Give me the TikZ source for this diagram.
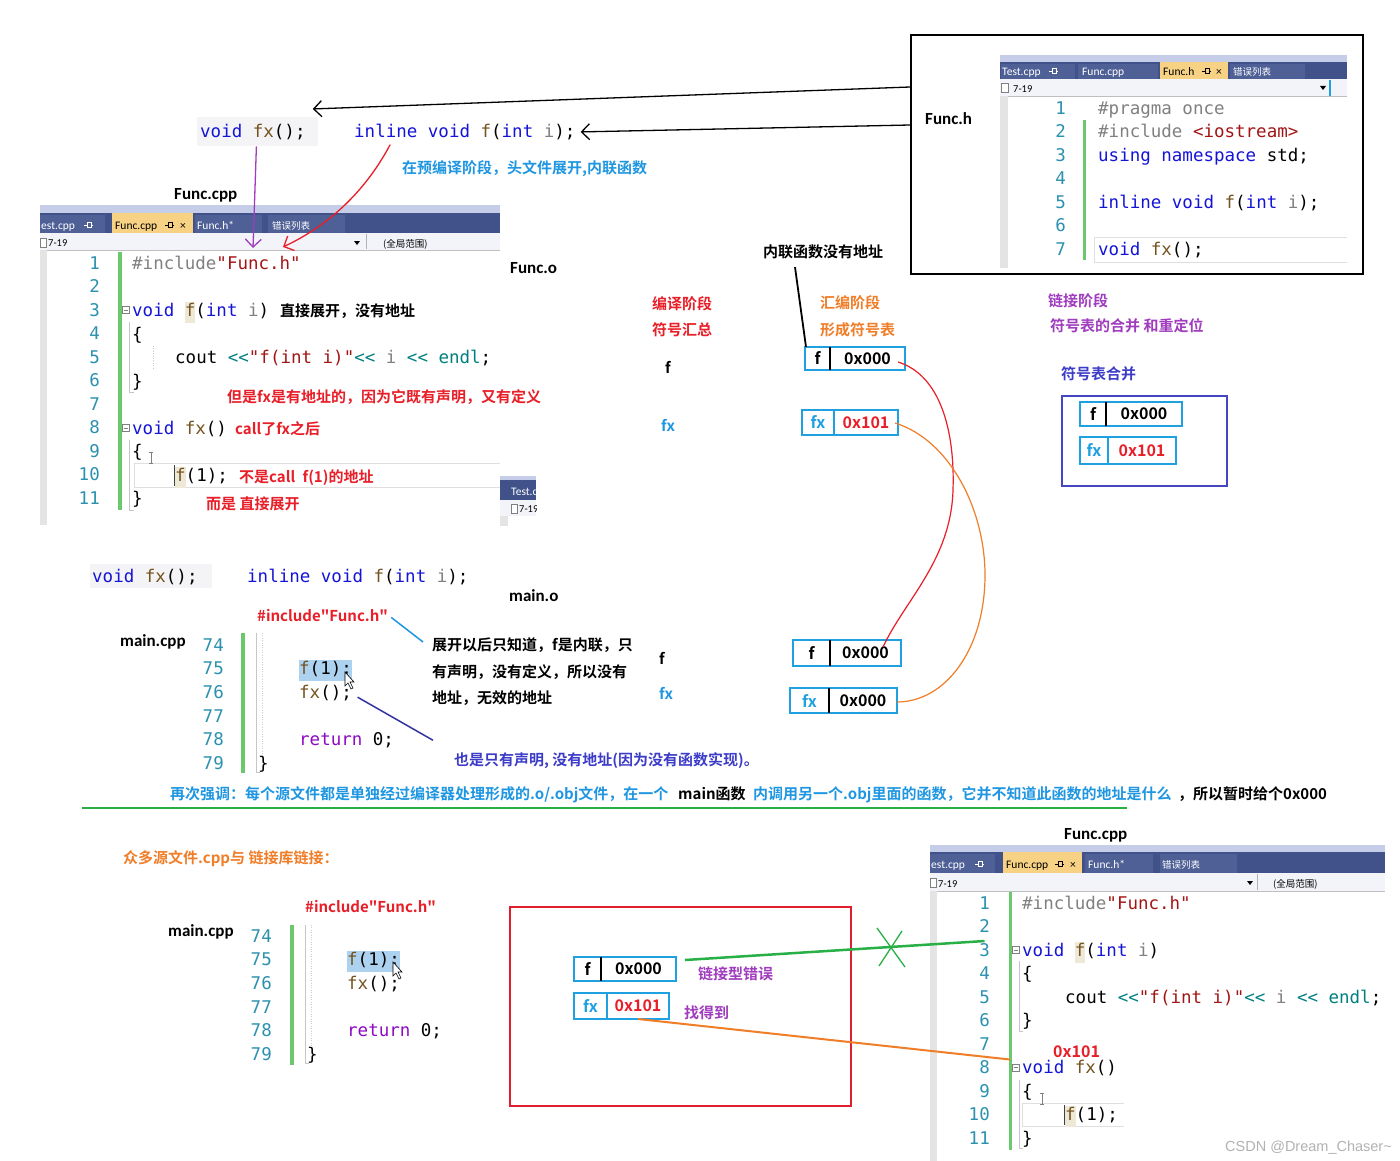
\documentclass[tikz,border=0pt]{standalone}
\usepackage{fontspec}
\setmainfont{Carlito}
\setmonofont{DejaVu Sans Mono}
\newfontfamily\cjk{Noto Sans CJK SC}[BoldFont={Noto Sans CJK SC Bold}]
\newfontfamily\wmfont{Liberation Sans}
\usetikzlibrary{arrows.meta,calc,positioning}

\definecolor{kwblue}{RGB}{20,20,215}
\definecolor{fnbrown}{RGB}{116,83,31}
\definecolor{prmgray}{RGB}{128,128,128}
\definecolor{strred}{RGB}{163,21,21}
\definecolor{opteal}{RGB}{0,128,128}
\definecolor{retpurple}{RGB}{143,8,196}
\definecolor{lnteal}{RGB}{43,145,175}
\definecolor{chgreen}{RGB}{108,200,108}
\definecolor{tabband}{RGB}{198,205,232}
\definecolor{tabbar}{RGB}{64,82,137}
\definecolor{tabin}{RGB}{78,96,150}
\definecolor{tabact}{RGB}{247,210,132}
\definecolor{navrow}{RGB}{242,244,250}
\definecolor{margray}{RGB}{228,228,228}
\definecolor{codebg}{RGB}{244,244,246}
\definecolor{notered}{RGB}{232,30,40}
\definecolor{noteblue}{RGB}{30,150,225}
\definecolor{noteindigo}{RGB}{60,60,200}
\definecolor{noteorange}{RGB}{240,125,40}
\definecolor{notepurple}{RGB}{160,60,190}
\definecolor{cellblue}{RGB}{30,160,225}
\definecolor{boxindigo}{RGB}{70,70,195}
\definecolor{boxred}{RGB}{225,30,45}
\definecolor{linkgreen}{RGB}{40,175,70}
\definecolor{selblue}{RGB}{173,210,240}
\definecolor{fbeige}{RGB}{238,232,214}

\newcommand\ckw[1]{\textcolor{kwblue}{#1}}
\newcommand\cfn[1]{\textcolor{fnbrown}{#1}}
\newcommand\cprm[1]{\textcolor{prmgray}{#1}}
\newcommand\cstr[1]{\textcolor{strred}{#1}}
\newcommand\cpre[1]{\textcolor{prmgray}{#1}}
\newcommand\cop[1]{\textcolor{opteal}{#1}}
\newcommand\cret[1]{\textcolor{retpurple}{#1}}
\newcommand\chl[1]{{\setlength\fboxsep{0pt}\colorbox{fbeige}{\strut#1}}}
\newcommand\csel[1]{{\setlength\fboxsep{0pt}\colorbox{selblue}{\strut#1}}}

\tikzset{
  code/.style={anchor=mid west, inner sep=0pt, yshift=-4pt, font=\ttfamily\fontsize{17.5}{21}\selectfont},
  lnum/.style={anchor=mid east, inner sep=0pt, yshift=-4pt, text=lnteal, font=\ttfamily\fontsize{17.5}{21}\selectfont},
  note/.style={anchor=mid west, inner sep=0pt, yshift=-4pt, font=\cjk\bfseries\fontsize{15}{18}\selectfont},
  fname/.style={anchor=mid west, inner sep=0pt, yshift=-4pt, font=\bfseries\fontsize{17}{20}\selectfont},
  tabtxt/.style={anchor=mid west, inner sep=0pt, yshift=-2pt, text=white, font=\fontsize{11.5}{13}\selectfont},
  tabcjk/.style={tabtxt, font=\cjk\fontsize{9.5}{11}\selectfont},
  navtxt/.style={anchor=mid west, inner sep=0pt, yshift=-2pt, font=\fontsize{10.5}{12}\selectfont},
  cell/.style={draw=cellblue, line width=2pt, outer sep=0pt, inner sep=0pt, font=\cjk\bfseries\fontsize{16}{18}\selectfont},
  hand/.style={line width=1.3pt, line cap=round},
  barb/.style={-{Straight Barb[length=8pt,width=16pt,line width=1.3pt]}},
  guide/.style={gray!45, line width=0.6pt},
  tabpin/.pic={\draw[line width=0.7pt] (-3,0) -- (0,0) (0,-2.5) rectangle (4,2.5) (4,0) -- (6,0);}
}

\begin{document}
\begin{tikzpicture}[x=1pt, y=-1pt]
  \fill[white] (0,0) rectangle (1400,1161);
  \useasboundingbox (0,0) rectangle (1400,1161);

  % ---- declarations copied out of Func.h
  \fill[codebg] (197,117) rectangle (318,146);
  \node[code] (topfx) at (200,131) {\ckw{void} \cfn{fx}();};
  \node[code] (topinl) at (354,131) {\ckw{inline void} \cfn{f}(\ckw{int} \cprm{i});};
  \node[note, text=noteblue] (n1) at (402,167) {在预编译阶段，头文件展开,内联函数};
  \node[fname] (lfcpp) at (174,193) {Func.cpp};

  % ---- editor: Func.cpp (top)
  \fill[tabband] (40,205) rectangle (500,213);
  \fill[tabbar] (40,213) rectangle (500,233);
  \fill[tabin] (40,215) rectangle (105,233);
  \fill[tabact] (112,213) rectangle (193,233);
  \fill[tabin] (195,215) rectangle (262,233);
  \fill[tabin] (268,215) rectangle (345,233);
  \node[tabtxt] (e1t1) at (41,225) {est.cpp};
  \pic[white] at (87,225) {tabpin};
  \node[tabtxt, text=black] (e1t2) at (115,225) {Func.cpp};
  \pic[black] at (168,225) {tabpin};
  \node[tabtxt, text=black] (e1x) at (180,225) {×};
  \node[tabtxt] (e1t3) at (197,225) {Func.h*};
  \node[tabcjk] (e1t4) at (272,225) {错误列表};
  \fill[navrow] (40,233) rectangle (500,250);
  \draw[gray!50] (40,250) -- (500,250);
  \draw[gray, fill=white] (40,238) rectangle (46,247);
  \node[navtxt] (e1r1) at (48,242) {7-19};
  \fill (354,241) -- (360,241) -- (357,245) -- cycle;
  \draw[gray!60] (366,234) -- (366,249);
  \node[navtxt, font=\cjk\fontsize{9.5}{11}\selectfont] (e1r2) at (383,243) {(全局范围)};
  \fill[margray] (40,250) rectangle (47,525);
  \fill[chgreen] (118,252) rectangle (122,510);
  \foreach \k in {1,...,11}
    \node[lnum] (an\k) at (100,{263+23.5*(\k-1)}) {\k};
  \draw[guide] (129.5,322) -- (129.5,392) -- (134,392);
  \draw[guide] (129.5,440) -- (129.5,510) -- (134,510);
  \draw[gray!25] (500,463) -- (134,463) -- (134,487) -- (500,487);
  \draw[gray!45, dotted] (153,346) -- (153,368);
  \node[code] (a1) at (132,263) {\cpre{\#include}\cstr{"Func.h"}};
  \node[code] (a3) at (132,310) {\ckw{void} \chl{\cfn{f}}(\ckw{int} \cprm{i})};
  \node[code] (a4) at (132,334) {\{};
  \node[code] (a5) at (175,357) {cout \cop{<<}\cstr{"f(int i)"}\cop{<<} \cprm{i} \cop{<<} \cop{endl};};
  \node[code] (a6) at (132,381) {\}};
  \node[code] (a8) at (132,428) {\ckw{void} \cfn{fx}()};
  \node[code] (a9) at (132,451) {\{};
  \node[code] (a10) at (175,475) {\chl{\cfn{f}}(1);};
  \node[code] (a11) at (132,498) {\}};
  \foreach \y in {310,428}{
    \draw[gray, fill=white, line width=0.5pt] (122,\y-3.5) rectangle (129,\y+3.5);
    \draw[gray, line width=0.5pt] (123.5,\y) -- (127.5,\y);}
  \draw[black!75, line width=0.8pt] (174.5,465) -- (174.5,486);
  \draw[gray, line width=0.6pt] (149,452) -- (153,452) (151,452) -- (151,463) (149,463) -- (153,463);
  \node[note] (n2) at (280,310) {直接展开，没有地址};
  \node[note, text=notered] (n3) at (227,396) {但是fx是有地址的，因为它既有声明，又有定义};
  \node[note, text=notered] (n4) at (235,428) {call了fx之后};
  \node[note, text=notered] (n5) at (239,476) {不是call\hspace{0.5em}f(1)的地址};
  \node[note, text=notered] (n6) at (206,503) {而是 直接展开};
  % scrap of another editor
  \begin{scope}
    \clip (500,476) rectangle (536,526);
    \fill[tabband] (500,476) rectangle (536,480);
    \fill[tabbar] (500,480) rectangle (536,500);
    \node[tabtxt] (e0t) at (511,491) {Test.cpp};
    \fill[navrow] (500,500) rectangle (536,516);
    \draw[gray, fill=white] (511,504) rectangle (517,513);
    \node[navtxt] (e0r) at (519,508) {7-19};
    \fill[margray] (500,516) rectangle (508,526);
  \end{scope}
  \node[fname] (lfo) at (510,267) {Func.o};

  % ---- header file box
  \node[draw, line width=2.2pt, minimum width=452, minimum height=239, anchor=north west, inner sep=0pt] (fhbox) at (910,34) {};
  \node[fname] (lfh) at (925,118) {Func.h};
  \fill[tabband] (1000,55) rectangle (1347,62);
  \fill[tabbar] (1000,62) rectangle (1347,79);
  \fill[tabin] (1001,64) rectangle (1075,79);
  \fill[tabin] (1078,64) rectangle (1158,79);
  \fill[tabact] (1160,62) rectangle (1228,79);
  \fill[tabin] (1230,64) rectangle (1305,79);
  \node[tabtxt] (e2t1) at (1002,71) {Test.cpp};
  \pic[white] at (1052,71) {tabpin};
  \node[tabtxt] (e2t2) at (1082,71) {Func.cpp};
  \node[tabtxt, text=black] (e2t3) at (1163,71) {Func.h};
  \pic[black] at (1205,71) {tabpin};
  \node[tabtxt, text=black] (e2x) at (1216,71) {×};
  \node[tabcjk] (e2t4) at (1233,71) {错误列表};
  \fill[navrow] (1000,79) rectangle (1347,96);
  \draw[gray!50] (1000,96) -- (1347,96);
  \draw[gray, fill=white] (1001,83) rectangle (1008,92);
  \node[navtxt] (e2r1) at (1013,88) {7-19};
  \fill (1320,86) -- (1326,86) -- (1323,90) -- cycle;
  \draw[cellblue, line width=1.5pt] (1330,80) -- (1330,96);
  \fill[margray] (1000,96) rectangle (1008,268);
  \fill[chgreen] (1083,120) rectangle (1086,260);
  \foreach \k in {1,...,7}
    \node[lnum] (hn\k) at (1066,{108+23.5*(\k-1)}) {\k};
  \draw[gray!25] (1347,237) -- (1094,237) -- (1094,262) -- (1347,262);
  \node[code] (h1) at (1098,108) {\cpre{\#pragma once}};
  \node[code] (h2) at (1098,131.5) {\cpre{\#include} \cstr{<iostream>}};
  \node[code] (h3) at (1098,155) {\ckw{using namespace} std;};
  \node[code] (h5) at (1098,202) {\ckw{inline void} \cfn{f}(\ckw{int} \cprm{i});};
  \node[code] (h7) at (1098,249) {\ckw{void} \cfn{fx}();};

  % header -> declarations
  \draw[hand, barb] ($(fhbox.north west)+(0,53)$) -- ($(topfx.east)+(7,-23)$);
  \draw[hand, barb] ($(fhbox.north west)+(0,91)$) -- ($(topinl.east)+(5,0)$);
  \coordinate (incfc) at (253,248);
  \coordinate (incfh) at (283,247);
  \draw[hand, notepurple, barb] ($(topfx.center)+(3.5,15)$) -- (incfc);
  \draw[hand, notered, barb] ($(topinl.west)+(36,13)$) .. controls (366,190) and (330,225) .. (incfh);

  % ---- symbol stages
  \node[note] (nonote) at (763,251) {内联函数没有地址};
  \node[note, text=notered] (n7) at (652,303) {编译阶段};
  \node[note, text=notered] (n8) at (652,329) {符号汇总};
  \node[note] (sf1) at (665,367) {f};
  \node[note, text=noteblue] (sfx1) at (661,425) {fx};
  \node[note, text=noteorange] (n9) at (820,302) {汇编阶段};
  \node[note, text=noteorange] (n10) at (820,329) {形成符号表};
  \node[note, text=notepurple] (n11) at (1048,300) {链接阶段};
  \node[note, text=notepurple] (n12) at (1050,325) {符号表的合并 和重定位};
  \node[note, text=noteindigo] (n13) at (1061,373) {符号表合并};
  \node[draw=boxindigo, line width=2pt, minimum width=165, minimum height=90, anchor=north west, inner sep=0pt] (mergebox) at (1061,395) {};

  % symbol tables
  \foreach \n/\x/\y/\wa/\wb/\h/\s/\sc/\a/\ac/\dc in {
      t1/805/358.5/25/75/23/f/black/0x000/black/black,
      t2/802/422.5/32/64/25/fx/cellblue/0x101/notered/cellblue,
      t3/1080/414/26/76/24/f/black/0x000/black/black,
      t4/1080/450.5/28/68/27/fx/cellblue/0x101/notered/cellblue,
      t5/793/653/37/71/26/f/black/0x000/black/black,
      t6/790/700.5/39/68/25/fx/cellblue/0x000/black/black,
      t7/574/969/27/75/24/f/black/0x000/black/black,
      t8/574/1006/33/62/26/fx/cellblue/0x101/notered/cellblue}{
    \node[cell, minimum width=\wa, minimum height=\h, text=\sc, anchor=west] (\n-s) at (\x,\y) {\s};
    \node[cell, minimum width=\wb, minimum height=\h, text=\ac, anchor=west] (\n-a) at (\n-s.east) {\a};
    \draw[\dc, line width=2pt] (\n-s.north east) -- (\n-s.south east);}

  \draw[line width=1.8pt] ($(nonote.south west)+(32,8)$) -- ($(t1-s.north west)+(1,0)$);
  % relocation of the addresses
  \draw[notered, line width=1.2pt] ($(t1-a.east)+(-7,3.5)$) .. controls (940,375) and (955,430) .. (953,490)
    .. controls (951,560) and (905,600) .. ($(t5-a.east)+(-18,-6)$);
  \draw[noteorange, line width=1.2pt] ($(t2-a.east)+(-3,0.5)$) .. controls (950,440) and (985,510) .. (985,575)
    .. controls (985,650) and (945,702) .. ($(t6-a.east)+(0,1.5)$);

  % ---- main.cpp (middle)
  \fill[codebg] (90,564) rectangle (212,588);
  \node[code] (midfx) at (92,576) {\ckw{void} \cfn{fx}();};
  \node[code] (midinl) at (247,576) {\ckw{inline void} \cfn{f}(\ckw{int} \cprm{i});};
  \node[fname] (lmo) at (509,595) {main.o};
  \node[note, text=notered] (inc1) at (257,615) {\#include"Func.h"};
  \node[fname] (lmcpp1) at (120,640) {main.cpp};
  \fill[chgreen] (241,633) rectangle (245,773);
  \draw[guide] (256,633) -- (256,772) -- (260,772);
  \draw[gray!40, dotted] (262,633) -- (262,757);
  \foreach \k in {74,...,79}
    \node[lnum] (mn\k) at (224,{645+23.6*(\k-74)}) {\k};
  \node[code] (m75) at (299,668.6) {\csel{\cfn{f}(1);}};
  \node[code] (m76) at (299,692.2) {\cfn{fx}();};
  \node[code] (m78) at (299,739.4) {\cret{return} 0;};
  \node[code] (m79) at (258,763) {\}};
  \draw[fill=white, line width=0.6pt] (345,672) -- (345,686) -- (348,683) -- (351,689) -- (353,688) -- (350,682) -- (354,682) -- cycle;
  \node[note] (mnote1) at (432,644) {展开以后只知道，f是内联，只};
  \node[note] (mnote2) at (432,671) {有声明，没有定义，所以没有};
  \node[note] (mnote3) at (432,697) {地址，无效的地址};
  \node[note, text=noteindigo] (mnote4) at (454,759) {也是只有声明, 没有地址(因为没有函数实现)。};
  \node[note] (sf2) at (659,658) {f};
  \node[note, text=noteblue] (sfx2) at (659,693) {fx};
  \draw[noteblue, line width=1.5pt] ($(inc1.east)+(3,2)$) -- ($(mnote1.west)+(-9,-3)$);
  \draw[noteindigo!80!black, line width=1.5pt] ($(m76.east)+(5.5,4)$) -- ($(mnote4.north west)+(-21,-12)$);

  % ---- reminder line
  \node[note, text=noteblue] (em1) at (170,793) {再次强调：每个源文件都是单独经过编译器处理形成的.o/.obj文件，在一个};
  \node[note] (em2) at (678,793) {main函数};
  \node[note, text=noteblue] (em3) at (753,793) {内调用另一个.obj里面的函数，它并不知道此函数的地址是什么};
  \node[note] (em4) at (1178,793) {，所以暂时给个0x000};
  \draw[linkgreen, line width=2.5pt] (82,808) -- (1127,808);

  % ---- linking with the library
  \node[note, text=noteorange] (n14) at (123,857) {众多源文件.cpp与 链接库链接：};
  \node[note, text=notered] (inc2) at (305,906) {\#include"Func.h"};
  \node[fname] (lmcpp2) at (168,930) {main.cpp};
  \fill[chgreen] (290,925) rectangle (294,1065);
  \draw[guide] (305,925) -- (305,1063) -- (309,1063);
  \draw[gray!40, dotted] (311,925) -- (311,1048);
  \foreach \k in {74,...,79}
    \node[lnum] (kn\k) at (272,{936+23.6*(\k-74)}) {\k};
  \node[code] (k75) at (347,959.6) {\csel{\cfn{f}(1);}};
  \node[code] (k76) at (347,983.2) {\cfn{fx}();};
  \node[code] (k78) at (347,1030.4) {\cret{return} 0;};
  \node[code] (k79) at (307,1054) {\}};
  \draw[fill=white, line width=0.6pt] (393,962) -- (393,976) -- (396,973) -- (399,979) -- (401,978) -- (398,972) -- (402,972) -- cycle;
  \node[draw=boxred, line width=2.2pt, minimum width=341, minimum height=199, anchor=north west, inner sep=0pt] (linkbox) at (509,906) {};
  \node[note, text=notepurple] (n15) at (698,973) {链接型错误};
  \node[note, text=notepurple] (n16) at (684,1012) {找得到};

  % ---- editor: Func.cpp (bottom)
  \node[fname] (lfcpp2) at (1064,833) {Func.cpp};
  \fill[tabband] (930,845) rectangle (1385,852);
  \fill[tabbar] (930,852) rectangle (1385,873);
  \fill[tabin] (930,854) rectangle (995,873);
  \fill[tabact] (1003,852) rectangle (1082,873);
  \fill[tabin] (1085,854) rectangle (1153,873);
  \fill[tabin] (1160,854) rectangle (1237,873);
  \node[tabtxt] (e3t1) at (931,864) {est.cpp};
  \pic[white] at (978,864) {tabpin};
  \node[tabtxt, text=black] (e3t2) at (1006,864) {Func.cpp};
  \pic[black] at (1058,864) {tabpin};
  \node[tabtxt, text=black] (e3x) at (1070,864) {×};
  \node[tabtxt] (e3t3) at (1088,864) {Func.h*};
  \node[tabcjk] (e3t4) at (1162,864) {错误列表};
  \fill[navrow] (930,873) rectangle (1385,891);
  \draw[gray!50] (930,891) -- (1385,891);
  \draw[gray, fill=white] (930,878) rectangle (936,887);
  \node[navtxt] (e3r1) at (938,883) {7-19};
  \fill (1247,881) -- (1253,881) -- (1250,885) -- cycle;
  \draw[gray!60] (1257,874) -- (1257,890);
  \node[navtxt, font=\cjk\fontsize{9.5}{11}\selectfont] (e3r2) at (1273,883) {(全局范围)};
  \fill[margray] (930,891) rectangle (937,1161);
  \fill[chgreen] (1009,892) rectangle (1012,1150);
  \foreach \k in {1,...,11}
    \node[lnum] (bn\k) at (990,{903+23.5*(\k-1)}) {\k};
  \draw[guide] (1019,961) -- (1019,1031) -- (1023,1031);
  \draw[guide] (1019,1080) -- (1019,1148) -- (1023,1148);
  \draw[gray!25] (1124,1103) -- (1022,1103) -- (1022,1126) -- (1124,1126);
  \node[code] (b1) at (1022,903) {\cpre{\#include}\cstr{"Func.h"}};
  \node[code] (b3) at (1022,950) {\ckw{void} \chl{\cfn{f}}(\ckw{int} \cprm{i})};
  \node[code] (b4) at (1022,973.5) {\{};
  \node[code] (b5) at (1065,997) {cout \cop{<<}\cstr{"f(int i)"}\cop{<<} \cprm{i} \cop{<<} \cop{endl};};
  \node[code] (b6) at (1022,1020.5) {\}};
  \node[code] (b8) at (1022,1067.5) {\ckw{void} \cfn{fx}()};
  \node[code] (b9) at (1022,1091) {\{};
  \node[code] (b10) at (1065,1114.5) {\chl{\cfn{f}}(1);};
  \node[code] (b11) at (1022,1138) {\}};
  \foreach \y in {950,1067.5}{
    \draw[gray, fill=white, line width=0.5pt] (1012,\y-3.5) rectangle (1019,\y+3.5);
    \draw[gray, line width=0.5pt] (1013.5,\y) -- (1017.5,\y);}
  \draw[black!75, line width=0.8pt] (1064.5,1105) -- (1064.5,1125);
  \draw[gray, line width=0.6pt] (1040,1093) -- (1044,1093) (1042,1093) -- (1042,1104) (1040,1104) -- (1044,1104);
  \node[note, text=notered, font=\cjk\bfseries\fontsize{16}{18}\selectfont] (n17) at (1053,1051) {0x101};
  \node[anchor=mid west, inner sep=0pt, yshift=-2pt, text=gray!60, font=\wmfont\fontsize{14.5}{16}\selectfont] (wm) at (1225,1147) {CSDN @Dream\_Chaser\string~};

  % links between the tables and Func.cpp
  \coordinate (xm) at (891,947);
  \draw[linkgreen, line width=2.5pt] ($(t7-a.east)+(9,-9)$) -- ($(bn3.center)+(0,-9)$);
  \draw[linkgreen, line width=1.3pt] ($(xm)+(-14,-19)$) -- ($(xm)+(14,20)$) ($(xm)+(11,-16)$) -- ($(xm)+(-12,19)$);
  \draw[noteorange, line width=2pt] (t8-a.south) -- ($(bn8.east)+(20,-8)$);
\end{tikzpicture}
\end{document}
